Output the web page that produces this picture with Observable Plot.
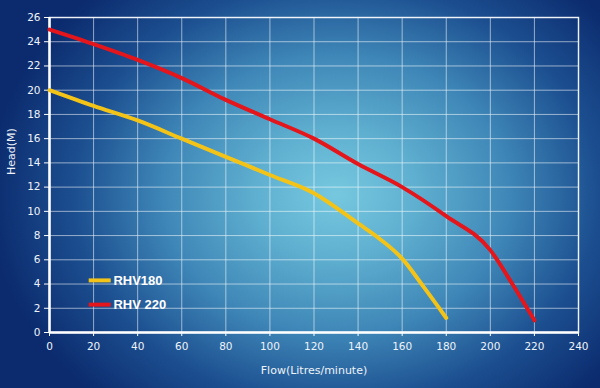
<!DOCTYPE html>
<html>
<head>
<meta charset="utf-8">
<script src="https://cdn.jsdelivr.net/npm/d3@7"></script>
<script src="https://cdn.jsdelivr.net/npm/@observablehq/plot@0.6"></script>
<style>
  html, body { margin: 0; padding: 0; background: #0b2b6e; }
  #chart svg { display: block; }
</style>
</head>
<body>
<div id="chart"></div>
<script>
const series = ["RHV180", "RHV 220"];
const colors = ["#f3c318", "#e4161c"];

const flow180 = [0, 20, 40, 60, 80, 100, 120, 140, 150, 160, 170, 180];
const head180 = [20, 18.7, 17.5, 16.0, 14.5, 13.0, 11.5, 9.0, 7.7, 6.1, 3.7, 1.2];

const flow220 = [0, 20, 40, 60, 80, 100, 120, 140, 160, 180, 200, 210, 220];
const head220 = [25, 23.8, 22.5, 21.0, 19.2, 17.6, 16.0, 13.9, 12.0, 9.6, 6.8, 4.0, 1.0];

const xTicks = [0, 20, 40, 60, 80, 100, 120, 140, 160, 180, 200, 220, 240];
const yTicks = [0, 2, 4, 6, 8, 10, 12, 14, 16, 18, 20, 22, 24, 26];

const legendX1 = 18, legendX2 = 28, legendTextX = 29;
const legendY = [4.3, 2.3];

const xLabel = "Flow(Litres/minute)";
const yLabel = "Head(M)";

const data = [
  ...flow180.map((f, i) => ({series: series[0], flow: f, head: head180[i]})),
  ...flow220.map((f, i) => ({series: series[1], flow: f, head: head220[i]}))
];
const legend = series.map((s, i) => ({series: s, y: legendY[i]}));

const chart = Plot.plot({
  width: 600,
  height: 388,
  marginLeft: 49,
  marginRight: 22,
  marginTop: 17,
  marginBottom: 56,
  style: {
    background: "radial-gradient(ellipse 58% 72% at 56% 50%, #76c8df 0%, #60b1d1 22%, #3e86b7 50%, #1c4f90 75%, #0b2b6e 100%)",
    color: "#eef3f8",
    fontFamily: "'DejaVu Sans', sans-serif",
    fontSize: "10.5px"
  },
  x: {domain: [0, 240], ticks: xTicks, label: null},
  y: {domain: [0, 26], ticks: yTicks, label: null},
  color: {domain: series, range: colors},
  marks: [
    Plot.gridX(xTicks, {stroke: "#ffffff", strokeOpacity: 0.55, strokeWidth: 1}),
    Plot.gridY(yTicks, {stroke: "#ffffff", strokeOpacity: 0.55, strokeWidth: 1}),
    Plot.frame({stroke: "#ffffff", strokeOpacity: 0.85, strokeWidth: 1.5}),
    Plot.ruleX([0], {stroke: "#ffffff", strokeWidth: 2.5}),
    Plot.ruleY([0], {stroke: "#ffffff", strokeWidth: 2.5}),
    Plot.axisX(xTicks, {tickSize: 4, tickPadding: 6, stroke: "#ffffff", fill: "#eef3f8", label: null}),
    Plot.axisY(yTicks, {tickSize: 5, tickPadding: 4, stroke: "#ffffff", fill: "#eef3f8", label: null}),
    Plot.line(data, {x: "flow", y: "head", z: "series", stroke: "series", strokeWidth: 4, curve: "monotone-x"}),
    Plot.ruleY(legend, {x1: legendX1, x2: legendX2, y: "y", stroke: "series", strokeWidth: 4}),
    Plot.text(legend, {x: legendTextX, y: "y", text: "series", textAnchor: "start", fill: "#ffffff", fontWeight: "bold", fontSize: 13, fontFamily: "'Liberation Sans', Arial, sans-serif"}),
    Plot.text([xLabel], {frameAnchor: "bottom", dy: 41, text: d => d, fill: "#eef3f8", fontSize: 11}),
    Plot.text([yLabel], {frameAnchor: "left", dx: -38, rotate: -90, text: d => d, fill: "#eef3f8", fontSize: 11})
  ]
});
document.getElementById("chart").appendChild(chart);
</script>
</body>
</html>
